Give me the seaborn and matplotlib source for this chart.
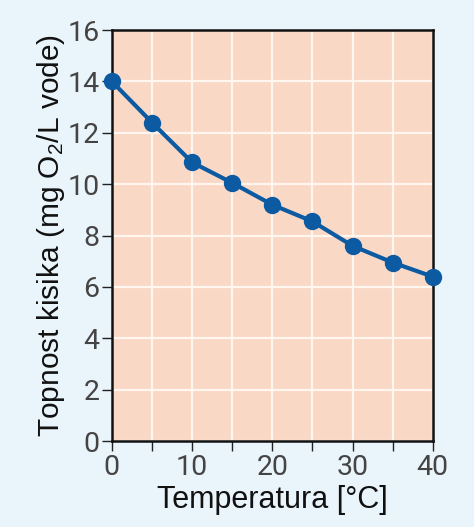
import matplotlib
matplotlib.use('Agg')
import matplotlib.pyplot as plt
import seaborn as sns
import pandas as pd
from matplotlib.ticker import MultipleLocator

# Topnost kisika u vodi ovisno o temperaturi
temperature = [0, 5, 10, 15, 20, 25, 30, 35, 40]
topnost = [14.0, 12.4, 10.85, 10.05, 9.2, 8.55, 7.6, 6.95, 6.4]

df = pd.DataFrame({'temperatura': temperature, 'topnost': topnost})

sns.set_theme(style='ticks')
plt.rcParams['font.family'] = ['Liberation Sans', 'DejaVu Sans']

fig = plt.figure(figsize=(4.74, 5.27), dpi=100, facecolor='#eaf4fb')
ax = fig.add_axes([0.236, 0.163, 0.677, 0.78])
ax.set_facecolor('#fad8c6')

sns.lineplot(data=df, x='temperatura', y='topnost', ax=ax, color='#0b5aa2',
             linewidth=3.0, marker='o', markersize=12.5, markeredgewidth=0, zorder=5,
             clip_on=False)

ax.set_xlim(0, 40)
ax.set_ylim(0, 16)
ax.xaxis.set_major_locator(MultipleLocator(10))
ax.xaxis.set_minor_locator(MultipleLocator(5))
ax.yaxis.set_major_locator(MultipleLocator(2))

ax.grid(True, which='both', color='#fff6f0', linewidth=1.6)
ax.set_axisbelow(True)
for s in ax.spines.values():
    s.set_visible(True)
    s.set_color('#111111')
    s.set_linewidth(1.8)

ax.tick_params(axis='both', which='both', direction='out', length=7, width=1.0,
               color='#222222', pad=2)
ax.tick_params(axis='both', which='major', labelsize=20.5, labelcolor='#444444')
for lab in ax.get_xticklabels() + ax.get_yticklabels():
    lab.set_family(['Roboto', 'DejaVu Sans'])

ax.set_xlabel('Temperatura [°C]', fontsize=22, color='#111111', labelpad=3)
ax.set_ylabel(r'Topnost kisika (mg O$\mathregular{_2}$/L vode)', fontsize=21.5,
              color='#111111', labelpad=0)

fig.savefig('out.png', dpi=100, facecolor=fig.get_facecolor())
